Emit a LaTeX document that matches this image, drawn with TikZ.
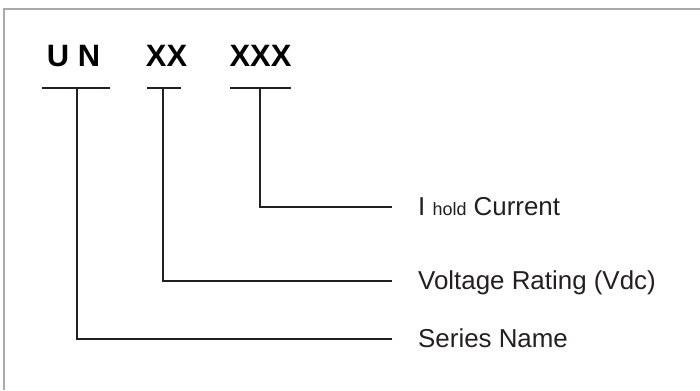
\documentclass[tikz,border=0pt]{standalone}
\usepackage{fontspec}
\setmainfont{Liberation Sans}
\usetikzlibrary{calc}
\definecolor{framegray}{HTML}{A7A9AC}
\definecolor{inkdark}{HTML}{231F20}

\begin{document}
\begin{tikzpicture}[x=1bp, y=-1bp,
  code/.style={font=\fontsize{31}{36}\selectfont\bfseries, text=black, inner sep=0, anchor=base},
  lab/.style={font=\fontsize{26}{30}\selectfont, text=inkdark, anchor=west, inner sep=0, text height=19bp, text depth=2bp},
  bar/.style={inkdark, line width=2bp},
  leg/.style={inkdark, line width=2bp, shorten >=26bp}]
\useasboundingbox (0,0) rectangle (700,390);
\draw[framegray, line width=2.4bp] (4,390) -- (4,9) -- (700,9);
% part number fields
\node[code] (un)  at (73.5,66)  {U N};
\node[code] (xx)  at (166.5,66) {XX};
\node[code] (xxx) at (260.5,66) {XXX};
% descriptions
\node[lab] (ihold)  at (418,207) {I {\fontsize{18}{20}\selectfont hold} Current};
\node[lab] (vdc)    at (418,281) {Voltage Rating (Vdc)};
\node[lab] (series) at (418,339) {Series Name};
\foreach \nm/\lx/\rx/\vx/\tgt in {un/42/110/77/series, xx/147/181/163/vdc, xxx/230/291/260/ihold} {
 \draw[bar] (\lx,88) -- (\rx,88);
 \coordinate (\nm-stem) at (\vx,88);
 \draw[leg] (\nm-stem) |- (\tgt.west);
}
\end{tikzpicture}
\end{document}
